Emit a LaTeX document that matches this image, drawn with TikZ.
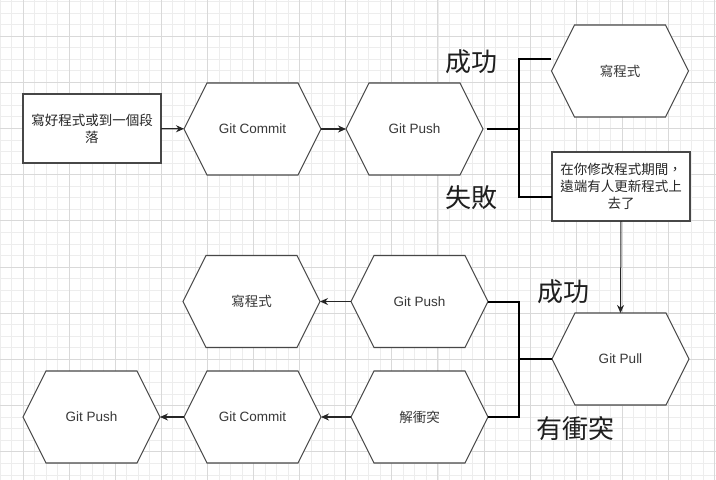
\documentclass[tikz,border=0pt]{standalone}
\usepackage{fontspec}
\setmainfont{Liberation Sans}
\newfontfamily\cjk{Noto Sans CJK TC}
\usetikzlibrary{arrows.meta,calc}
\tikzset{
  minorgrid/.style={draw=black!7,line width=0.8pt},
  majorgrid/.style={draw=black!15,line width=0.9pt},
  shapeline/.style={draw=black!72,line width=1.1pt,line join=miter},
  hexbox/.style={minimum width=137pt,minimum height=92pt,inner sep=0pt,outer sep=0pt,
    font=\fontsize{13.5}{17}\selectfont,text=black!78},
  rectbox/.style={shapeline,fill=white,minimum width=138pt,minimum height=69pt,inner sep=0pt,outer sep=0pt,
    align=center,font=\cjk\fontsize{13.5}{17}\selectfont,text=black!85},
  biglabel/.style={font=\cjk\fontsize{26}{30}\selectfont,text=black!88,inner sep=0pt},
  splitline/.style={draw=black,line width=2pt},
  arrowline/.style={draw=black!85,line width=1.1pt,-{Stealth[length=8pt,width=7pt]}},
}
\newcommand\hexnode[3]{%
  \node[hexbox] (#1) at (#2) {#3};
  \draw[shapeline,fill=white] (#1.west) -- ([xshift=23pt]#1.north west) -- ([xshift=-23pt]#1.north east)
    -- (#1.east) -- ([xshift=-23pt]#1.south east) -- ([xshift=23pt]#1.south west) -- cycle;
  \node[hexbox] at (#2) {#3};
}
\begin{document}
\begin{tikzpicture}[x=1pt,y=-1pt]
\useasboundingbox (0,0) rectangle (716,480);
\fill[white] (0,0) rectangle (716,480);
% grid
\foreach \i in {-2,...,60} {\draw[minorgrid] ({23+11.525*\i},0) -- ({23+11.525*\i},480);}
\foreach \j in {-3,...,38} {\draw[minorgrid] (0,{36+11.55*\j}) -- (716,{36+11.55*\j});}
\foreach \i in {0,...,15} {\draw[majorgrid] ({23+46.1*\i},0) -- ({23+46.1*\i},480);}
\foreach \j in {-1,...,9} {\draw[majorgrid] (0,{36+46.2*\j}) -- (716,{36+46.2*\j});}

% top row
\node[rectbox] (write) at (92,128.5) {寫好程式或到一個段\\落};
\hexnode{commit1}{252.5,129}{Git Commit}
\hexnode{push1}{414.5,129}{Git Push}
\hexnode{code1}{620,71}{\cjk 寫程式}
\node[rectbox] (fail) at (621,186.5) {在你修改程式期間，\\遠端有人更新程式上\\去了};

% bottom rows
\hexnode{pull}{620.5,359}{Git Pull}
\hexnode{push2}{419.5,301.5}{Git Push}
\hexnode{resolve}{419.5,417}{\cjk 解衝突}
\hexnode{code2}{251.5,301.5}{\cjk 寫程式}
\hexnode{commit2}{252.5,417}{Git Commit}
\hexnode{push3}{91.5,417}{Git Push}

% labels
\node[biglabel] (ok1) at (471,62) {成功};
\node[biglabel] (ng1) at (471,198) {失敗};
\node[biglabel] (ok2) at (563,292) {成功};
\node[biglabel] (cf) at (575,429) {有衝突};

% connectors
\draw[arrowline] (write) -- (commit1);
\draw[arrowline] (commit1) -- (push1);
\coordinate (j1) at (519,129);
\coordinate (c1) at (551,59);
\coordinate (c2) at (552,197);
\draw[splitline] ([xshift=4pt]push1.east) -- (j1);
\draw[splitline] (c1) -| (j1) |- (c2);
\draw[arrowline,line width=1pt] (fail.south) -- (pull.north);
\coordinate (j2) at (519,359);
\draw[splitline] (push2.east) -| (j2) |- (resolve.east);
\draw[splitline] (pull.west) -- (j2);
\draw[arrowline] (push2) -- (code2);
\draw[arrowline] (resolve) -- (commit2);
\draw[arrowline] (commit2) -- (push3);
\end{tikzpicture}
\end{document}
